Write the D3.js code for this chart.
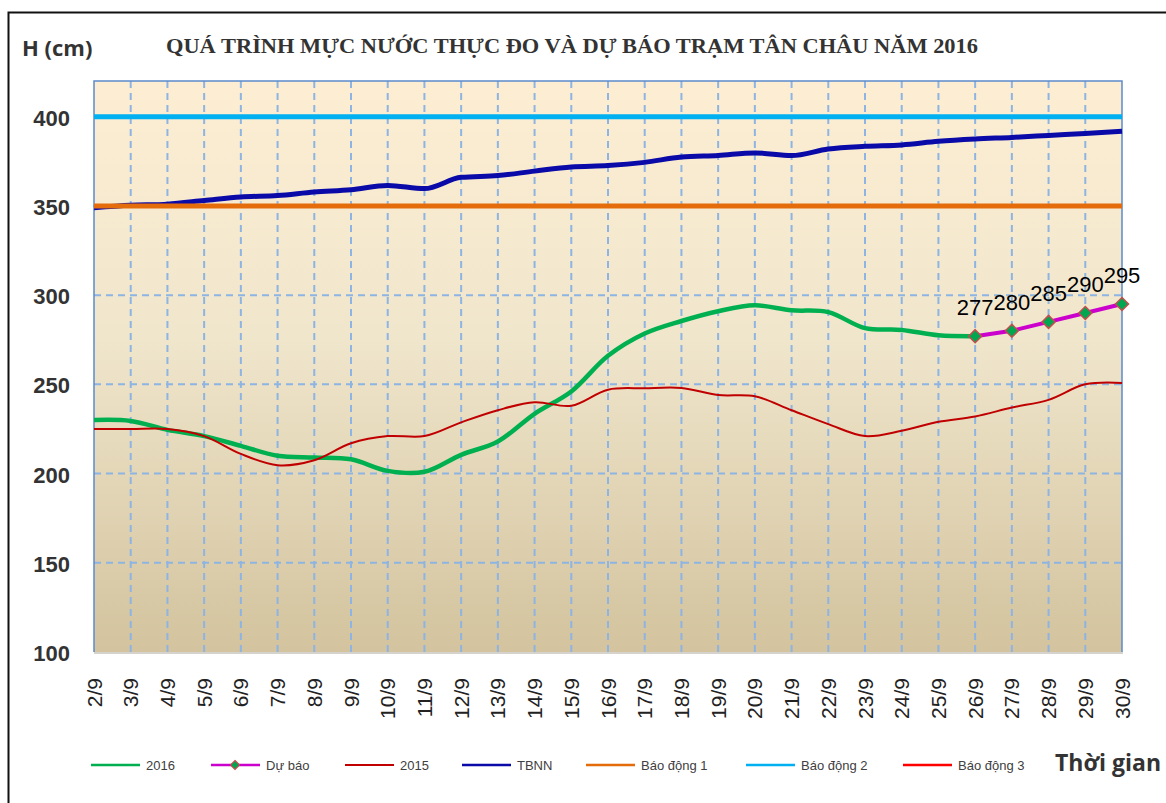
<!DOCTYPE html>
<html>
<head>
<meta charset="utf-8">
<script src="https://cdn.jsdelivr.net/npm/d3@7"></script>
<style>
  body { margin: 0; background: #fff; }
  svg { display: block; }
</style>
</head>
<body>
<div id="chart"></div>
<script>
// du lieu doc tu hinh
const days = ["2/9", "3/9", "4/9", "5/9", "6/9", "7/9", "8/9", "9/9", "10/9", "11/9",
    "12/9", "13/9", "14/9", "15/9", "16/9", "17/9", "18/9", "19/9", "20/9", "21/9",
    "22/9", "23/9", "24/9", "25/9", "26/9", "27/9", "28/9", "29/9", "30/9"];

const h2016 = [230, 229.5, 224.5, 221, 215.5, 210, 209, 208, 201.5, 201,
    210.5, 218, 233.5, 246, 266, 278.5, 285.5, 291, 294.3, 291.5,
    290.5, 281.5, 280.5, 277.5, 277];

const forecastDays = ["26/9", "27/9", "28/9", "29/9", "30/9"];
const forecast = [277, 280, 285, 290, 295];

const h2015 = [225, 225, 225, 221, 211, 204.7, 207.5, 217, 221, 221,
    228.7, 235.5, 240, 238, 247, 247.8, 248, 244, 243.3, 235.5,
    227.7, 221, 224, 229, 232, 237, 241.3, 250, 250.8];

const tbnn = [349, 350.3, 351, 353, 355, 355.8, 357.8, 359, 361.5, 359.7,
    366, 367, 369.5, 371.8, 372.6, 374.4, 377.4, 378.3, 379.7, 378.2,
    381.9, 383.4, 384.2, 386.2, 387.5, 388.4, 389.5, 390.6, 391.8];

const alarms = [
    { name: "Báo động 1", value: 350, color: "#E46C0A" },
    { name: "Báo động 2", value: 400, color: "#00B0F0" },
    { name: "Báo động 3", value: 450, color: "#FF0000" }
];

const yTicks = [100, 150, 200, 250, 300, 350, 400];

const W = 1166, H = 803;
const plot = { left: 94, right: 1122, top: 81, bottom: 652 };

const svg = d3.select("#chart").append("svg")
    .attr("width", W)
    .attr("height", H);

// khung ngoai
svg.append("rect")
    .attr("x", 8.5).attr("y", 12.5)
    .attr("width", W + 10).attr("height", H + 10)
    .attr("fill", "none")
    .attr("stroke", "#111")
    .attr("stroke-width", 2);

const x = d3.scalePoint().domain(days).range([plot.left, plot.right]);
const y = d3.scaleLinear().domain([100, 420]).range([plot.bottom, plot.top]);

const defs = svg.append("defs");
const grad = defs.append("linearGradient")
    .attr("id", "bg-grad")
    .attr("x1", "0%").attr("y1", "0%")
    .attr("x2", "0%").attr("y2", "100%");
grad.append("stop").attr("offset", "0%").attr("stop-color", "#FDEED3");
grad.append("stop").attr("offset", "45%").attr("stop-color", "#F0E6CC");
grad.append("stop").attr("offset", "100%").attr("stop-color", "#D3C39E");

svg.append("rect")
    .attr("x", plot.left).attr("y", plot.top)
    .attr("width", plot.right - plot.left)
    .attr("height", plot.bottom - plot.top)
    .attr("fill", "url(#bg-grad)");

// luoi
const grid = svg.append("g").attr("class", "grid")
    .attr("stroke", "#8DB4E2")
    .attr("stroke-width", 2)
    .attr("stroke-dasharray", "7,5");

grid.selectAll(".vline")
    .data(days.slice(1, -1))
    .enter()
    .append("line")
    .attr("x1", d => x(d)).attr("x2", d => x(d))
    .attr("y1", plot.top).attr("y2", plot.bottom);

grid.selectAll(".hline")
    .data(yTicks.slice(1))
    .enter()
    .append("line")
    .attr("x1", plot.left).attr("x2", plot.right)
    .attr("y1", d => y(d)).attr("y2", d => y(d));

// khung vung ve
svg.append("path")
    .attr("d", `M${plot.left},${plot.bottom}V${plot.top}H${plot.right}V${plot.bottom}`)
    .attr("fill", "none")
    .attr("stroke", "#5B8BCB")
    .attr("stroke-width", 1.5);
svg.append("line")
    .attr("x1", plot.left).attr("x2", plot.right + 1)
    .attr("y1", plot.bottom + 1).attr("y2", plot.bottom + 1)
    .attr("stroke", "#D6D3CC")
    .attr("stroke-width", 2);

const smooth = d3.line()
    .x((d, i) => x(days[i]))
    .y(d => y(d))
    .curve(d3.curveCatmullRom);

const lines = svg.append("g").attr("fill", "none").attr("stroke-linejoin", "round");

lines.append("path")
    .attr("d", smooth(h2016))
    .attr("stroke", "#00B050")
    .attr("stroke-width", 4.5);

const fcLine = d3.line()
    .x((d, i) => x(forecastDays[i]))
    .y(d => y(d));

lines.append("path")
    .attr("d", fcLine(forecast))
    .attr("stroke", "#CC00CC")
    .attr("stroke-width", 4);

lines.append("path")
    .attr("d", smooth(h2015))
    .attr("stroke", "#C00000")
    .attr("stroke-width", 2);

lines.append("path")
    .attr("d", d3.line().x((d, i) => x(days[i])).y(d => y(d)).curve(d3.curveMonotoneX)(tbnn))
    .attr("stroke", "#0A0AA8")
    .attr("stroke-width", 5);

lines.selectAll(".alarm")
    .data(alarms.filter(d => d.value <= y.domain()[1]))
    .enter()
    .append("line")
    .attr("x1", plot.left).attr("x2", plot.right)
    .attr("y1", d => y(d.value)).attr("y2", d => y(d.value))
    .attr("stroke", d => d.color)
    .attr("stroke-width", 5);

// diem du bao
const diamond = r => `M0,${-r}L${r},0L0,${r}L${-r},0Z`;

svg.selectAll(".fc-point")
    .data(forecast)
    .enter()
    .append("path")
    .attr("class", "fc-point")
    .attr("transform", (d, i) => `translate(${x(forecastDays[i])},${y(d)})`)
    .attr("d", diamond(6.5))
    .attr("fill", "#00A650")
    .attr("stroke", "#C0504D")
    .attr("stroke-width", 1.5);

svg.selectAll(".fc-label")
    .data(forecast)
    .enter()
    .append("text")
    .attr("x", (d, i) => x(forecastDays[i]))
    .attr("y", d => y(d) - 21)
    .attr("text-anchor", "middle")
    .style("font", "22px 'Liberation Sans', Arial, sans-serif")
    .attr("fill", "#000")
    .text(d => d);

// truc y
svg.selectAll(".ylab")
    .data(yTicks)
    .enter()
    .append("text")
    .attr("x", 70)
    .attr("y", d => y(d) + 9)
    .attr("text-anchor", "end")
    .style("font", "bold 22px 'Liberation Sans', Arial, sans-serif")
    .attr("fill", "#333")
    .text(d => d);

// truc x
svg.selectAll(".xlab")
    .data(days)
    .enter()
    .append("text")
    .attr("transform", d => `translate(${x(d) + 7.5},678) rotate(-90)`)
    .attr("text-anchor", "end")
    .style("font", "21px 'Liberation Sans', Arial, sans-serif")
    .attr("fill", "#222")
    .text(d => d);

// tieu de
svg.append("text")
    .attr("x", 166)
    .attr("y", 53)
    .attr("textLength", 812)
    .attr("lengthAdjust", "spacingAndGlyphs")
    .style("font", "bold 21px 'Liberation Serif', 'Times New Roman', serif")
    .attr("fill", "#333")
    .text("QUÁ TRÌNH MỰC NƯỚC THỰC ĐO VÀ DỰ BÁO TRẠM TÂN CHÂU NĂM 2016");

svg.append("text")
    .attr("x", 22)
    .attr("y", 56)
    .style("font", "bold 22px 'Open Sans', sans-serif")
    .attr("fill", "#333")
    .text("H (cm)");

// chu giai
const legendItems = [
    { name: "2016", color: "#00B050", x: 91, width: 2.5 },
    { name: "Dự báo", color: "#CC00CC", x: 211, width: 2.5, marker: true },
    { name: "2015", color: "#C00000", x: 345, width: 2 },
    { name: "TBNN", color: "#0A0AA8", x: 462, width: 2.5 },
    { name: alarms[0].name, color: alarms[0].color, x: 586, width: 2.5 },
    { name: alarms[1].name, color: alarms[1].color, x: 746, width: 2.5 },
    { name: alarms[2].name, color: alarms[2].color, x: 903, width: 2.5 }
];

const legend = svg.append("g").attr("class", "legend");
const li = legend.selectAll(".item")
    .data(legendItems)
    .enter()
    .append("g")
    .attr("transform", d => `translate(${d.x},765)`);

li.append("line")
    .attr("x1", 0).attr("x2", 49)
    .attr("stroke", d => d.color)
    .attr("stroke-width", d => d.width);

li.filter(d => d.marker)
    .append("path")
    .attr("transform", "translate(24,0)")
    .attr("d", diamond(4.5))
    .attr("fill", "#00A650")
    .attr("stroke", "#C0504D")
    .attr("stroke-width", 1.2);

li.append("text")
    .attr("x", 55)
    .attr("y", 4.5)
    .style("font", "13px 'Liberation Sans', Arial, sans-serif")
    .attr("fill", "#404040")
    .text(d => d.name);

svg.append("text")
    .attr("x", 1055)
    .attr("y", 771)
    .style("font", "bold 23px 'Open Sans', sans-serif")
    .attr("fill", "#333")
    .text("Thời gian");
</script>
</body>
</html>
